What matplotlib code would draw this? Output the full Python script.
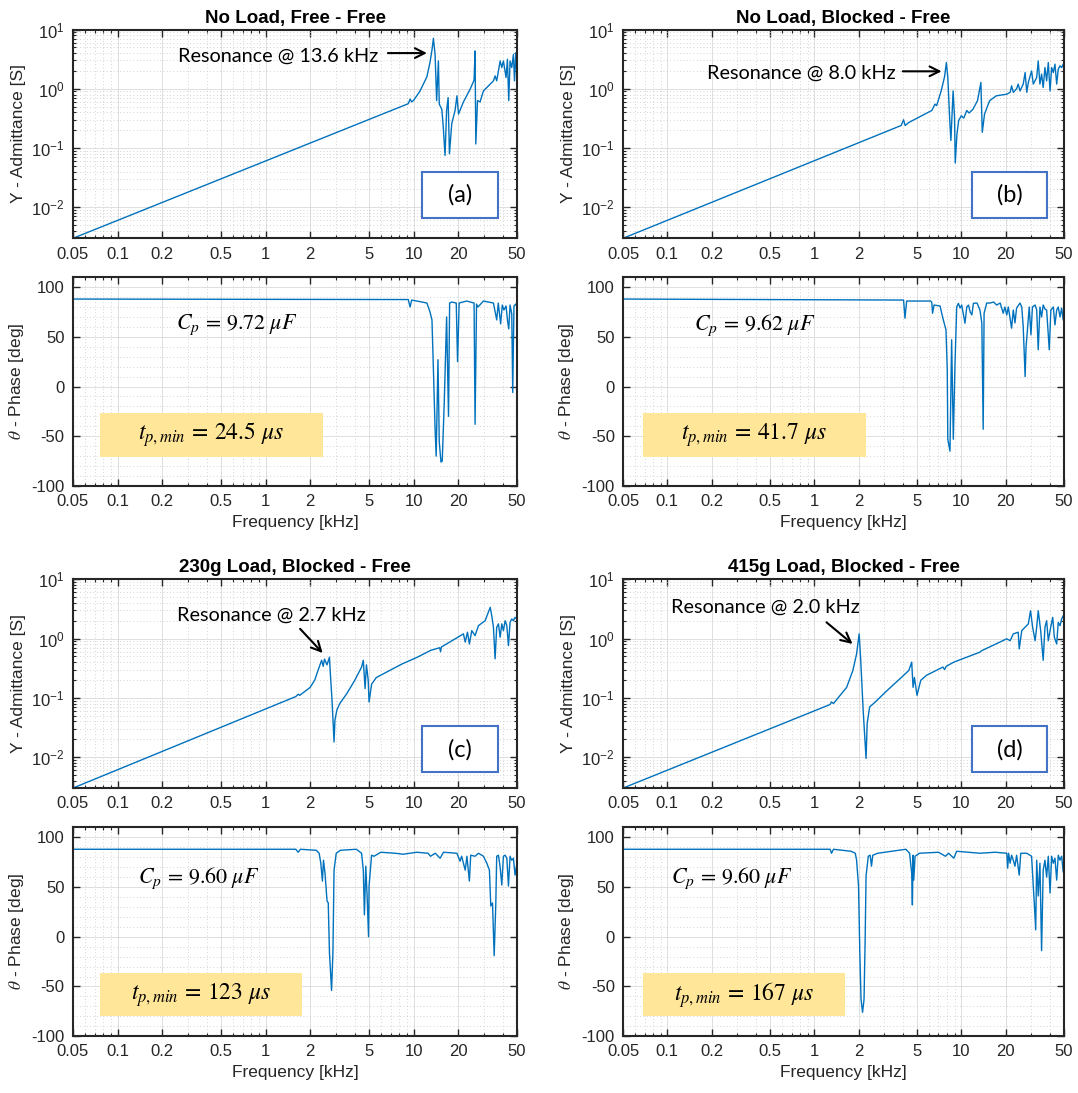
import numpy as np
import matplotlib
matplotlib.use("Agg")
import matplotlib.pyplot as plt
from matplotlib.ticker import FixedLocator, LogLocator, MultipleLocator, NullFormatter
from matplotlib.patches import Rectangle

# ---------------- data (frequency in kHz) ----------------
freq_ticks = [0.05, 0.1, 0.2, 0.5, 1, 2, 5, 10, 20, 50]
freq_tick_labels = ["0.05", "0.1", "0.2", "0.5", "1", "2", "5", "10", "20", "50"]

titles = ["No Load, Free - Free", "No Load, Blocked - Free",
          "230g Load, Blocked - Free", "415g Load, Blocked - Free"]
panel_tags = ["(a)", "(b)", "(c)", "(d)"]
resonance_khz = [13.6, 8.0, 2.7, 2.0]
cp_uf = ["9.72", "9.62", "9.60", "9.60"]
tp_min_us = ["24.5", "41.7", "123", "167"]

# (a) No load, free-free
fa = [0.05, 9.2, 9.46, 9.7, 10.0, 11.0, 12.3, 12.9, 13.3, 13.6, 13.96, 14.3, 14.7, 14.9, 15.5,
      15.8, 16.3, 16.7, 17.1, 17.45, 18.1, 19.05, 19.6, 20.1, 21.7, 24.1, 25.6, 26.0, 26.3, 27.0,
      28.1, 29.6, 34.6, 35.5, 36.4, 38.4, 39.4, 40.4, 42.1, 43.0, 43.9, 44.8, 46.0, 47.2, 48.0,
      49.0, 50.0]
ya = [0.003, 0.56, 0.67, 0.60, 0.64, 0.9, 1.6, 2.8, 4.5, 7.1, 3.8, 0.63, 2.95, 0.55, 0.45,
      0.255, 0.075, 0.43, 0.71, 0.08, 0.26, 0.43, 0.76, 0.375, 0.6, 0.99, 1.4, 4.35, 0.117, 0.63,
      0.6, 0.92, 1.36, 1.65, 1.36, 2.95, 2.28, 2.95, 1.55, 3.15, 0.63, 2.95, 2.28, 3.8, 1.36,
      4.07, 1.4]
fpa = [0.05, 9.2, 9.46, 9.7, 12.3, 12.9, 13.3, 13.6, 13.96, 14.2, 14.6, 14.9, 15.3, 15.6, 16.1,
       16.7, 17.2, 17.5, 18.1, 19.4, 19.8, 20.3, 22.8, 25.6, 26.0, 26.6, 27.2, 29.6, 34.6, 36.4,
       37.3, 38.7, 39.7, 40.7, 42.1, 43.0, 43.9, 44.8, 46.0, 46.7, 47.6, 49.0, 50.0]
pa = [88, 87.5, 80, 87, 84, 75, 67, 17, -43, -70, 27, -56, -76, -75, -16,
      70, -30, 84, 85, 84, 25, 84, 86, 84, -38, 83, 80, 86, 84, 67,
      84, 63, 82, 77, 81, 67, 58, 82, 73, -6, 81, 83, 80]

# (b) No load, blocked-free
fb = [0.05, 3.9, 4.05, 4.15, 4.4, 6.3, 6.46, 6.63, 6.8, 7.3, 7.7, 7.92, 8.1, 8.35, 8.5,
      8.8, 9.0, 9.1, 9.35, 9.6, 10.0, 10.4, 10.9, 11.3, 12.0, 12.9, 13.6, 13.9, 14.4, 15.6,
      17.3, 20.4, 21.5, 22.0, 22.6, 23.8, 24.4, 25.1, 26.4, 27.2, 27.9, 28.6, 30.1, 30.9, 32.6,
      33.4, 34.3, 35.2, 36.1, 37.1, 38.1, 39.1, 40.2, 41.2, 42.3, 43.4, 44.6, 45.7, 47.0, 48.2,
      49.4, 50.0]
yb = [0.003, 0.24, 0.30, 0.24, 0.27, 0.43, 0.485, 0.55, 0.52, 0.92, 1.6, 2.77, 1.55, 0.29, 0.134,
      0.92, 0.33, 0.056, 0.173, 0.29, 0.35, 0.32, 0.43, 0.39, 0.45, 0.63, 1.28, 0.184, 0.375, 0.63,
      0.76, 0.81, 0.87, 1.12, 0.87, 1.0, 1.2, 0.92, 1.2, 1.88, 0.87, 1.28, 2.0, 1.2, 1.55,
      2.95, 1.2, 1.77, 1.05, 2.28, 1.36, 2.77, 0.92, 2.28, 1.88, 2.6, 1.2, 2.14, 2.44, 2.28,
      2.6, 2.3]
fpb = [0.05, 4.05, 4.14, 4.25, 6.2, 6.3, 6.38, 6.53, 7.17, 7.55, 7.87, 8.03, 8.1, 8.38, 8.6,
       8.83, 9.07, 9.31, 9.56, 9.81, 10.07, 10.6, 10.9, 11.2, 11.5, 11.8, 12.1, 12.8, 13.4, 13.8,
       14.1, 14.3, 14.9, 15.7, 16.6, 17.4, 18.4, 19.3, 19.8, 20.4, 20.9, 22.0, 22.6, 23.2, 23.8,
       25.1, 25.8, 26.4, 27.2, 27.6, 28.2, 29.0, 29.8, 30.5, 31.8, 32.6, 33.4, 34.3, 35.2, 36.1,
       37.1, 38.1, 39.7, 40.7, 42.3, 43.4, 44.6, 45.7, 47.0, 48.2, 49.4, 50.0]
pb = [88, 87, 68.7, 86, 86, 84.7, 73.7, 82, 81, 67, 57, 17, -53, -65, 47,
      -53, 23.7, 80, 83.7, 79, 82, 63.7, 80, 82, 75, 72, 83.7, 84, 77, 64,
      -43, 73.7, 84, 84, 85, 82, 84, 73.7, 80, 72, 80, 58.7, 77, 64, 79,
      84, 80, 60, 10, 40, 57, 80, 52, 80, 82, 77, 37, 80, 70, 82,
      78, 77, 37, 77, 80, 62, 77, 80, 70, 79, 67, 72]

# (c) 230 g load, blocked-free
fc = [0.05, 1.6, 1.66, 1.7, 2.0, 2.15, 2.26, 2.39, 2.45, 2.5, 2.6, 2.7, 2.73, 2.81, 2.9, 2.94,
      3.03, 3.17, 3.53, 4.0, 4.45, 4.57, 4.7, 4.8, 4.93, 5.0, 5.2, 5.6, 6.9, 8.4, 10.6,
      13.0, 15.0, 15.2, 15.4, 19.6, 21.7, 22.3, 23.1, 23.8, 24.7, 26.0, 27.4, 30.4, 32.9, 33.7,
      34.6, 35.5, 36.4, 37.4, 38.4, 39.4, 40.4, 41.5, 42.6, 43.7, 44.8, 46.0, 47.2, 48.4, 50.0]
yc = [0.003, 0.105, 0.115, 0.11, 0.15, 0.2, 0.29, 0.43, 0.34, 0.45, 0.36, 0.485, 0.29, 0.091, 0.018, 0.042,
      0.062, 0.08, 0.117, 0.197, 0.33, 0.43, 0.143, 0.36, 0.2, 0.085, 0.17, 0.22, 0.29, 0.375, 0.485,
      0.63, 0.7, 0.6, 0.72, 1.03, 1.2, 0.87, 1.28, 0.81, 1.36, 1.12, 1.65, 2.0, 3.36, 2.44,
      1.55, 0.455, 1.55, 1.77, 1.05, 1.77, 1.36, 2.0, 1.65, 0.76, 1.88, 2.14, 2.0, 2.28, 2.1]
fpc = [0.05, 1.6, 1.66, 1.72, 2.2, 2.3, 2.36, 2.42, 2.46, 2.52, 2.6, 2.65, 2.7, 2.79, 2.85,
       2.9, 3.0, 3.2, 4.1, 4.45, 4.57, 4.65, 4.75, 4.85, 4.96, 5.0, 5.2, 5.4, 6.0, 7.5,
       8.5, 10.5, 12.5, 13.0, 14.0, 15.1, 15.9, 19.6, 20.6, 21.1, 22.3, 22.9, 23.8, 24.3, 26.0,
       27.4, 29.6, 31.2, 32.5, 33.2, 34.1, 35.0, 35.9, 36.4, 37.4, 38.4, 39.4, 40.4, 41.5, 42.6,
       43.7, 44.8, 46.0, 47.2, 48.4, 50.0]
pc = [88, 88, 85, 88, 87, 84, 74, 56, 77, 64, 36, 34, -16, -54, -16,
      67, 84, 87, 88, 84, 67, 22, 71, 41, 0, 51, 82, 81, 85, 84,
      83, 85, 84, 81, 84, 79, 85, 84, 76, 81, 67, 81, 56, 82, 81,
      84, 81, 74, 67, 31, 34, -19, 34, 81, 82, 70, 52, 81, 82, 79,
      51, 81, 77, 79, 62, 75]

# (d) 415 g load, blocked-free
fd = [0.05, 1.28, 1.31, 1.35, 1.66, 1.83, 1.94, 2.02, 2.07, 2.15, 2.25, 2.29, 2.38, 2.6, 3.1,
      3.83, 4.4, 4.6, 4.7, 4.8, 5.0, 5.3, 5.8, 7.5, 7.7, 7.9, 8.9, 13.4, 13.7, 20.4,
      21.5, 22.6, 24.4, 24.8, 25.8, 28.6, 29.6, 30.6, 31.8, 32.6, 33.4, 34.7, 36.1, 37.1, 38.1,
      39.1, 40.6, 41.9, 43.0, 44.6, 45.7, 47.0, 48.2, 49.4, 50.0]
yd = [0.003, 0.077, 0.085, 0.08, 0.15, 0.29, 0.55, 1.2, 0.43, 0.062, 0.0095, 0.037, 0.07, 0.085, 0.13,
      0.21, 0.29, 0.4, 0.15, 0.22, 0.11, 0.197, 0.24, 0.33, 0.3, 0.34, 0.4, 0.59, 0.62, 0.99,
      0.92, 1.2, 1.28, 0.67, 1.36, 1.77, 2.95, 1.55, 0.92, 1.55, 2.95, 1.36, 0.43, 1.55, 2.0,
      0.92, 1.55, 2.28, 1.05, 0.81, 1.88, 1.65, 2.14, 2.44, 2.3]
fpd = [0.05, 1.28, 1.31, 1.35, 1.78, 1.9, 1.94, 2.0, 2.04, 2.08, 2.13, 2.18, 2.22, 2.25, 2.33,
       2.4, 2.45, 2.5, 2.7, 4.2, 4.45, 4.6, 4.65, 4.7, 4.75, 4.85, 5.2, 7.0, 7.8, 8.2,
       8.9, 9.3, 13.4, 17.0, 20.4, 20.7, 21.0, 21.5, 22.0, 22.6, 23.2, 23.8, 24.8, 25.4, 27.9,
       30.1, 30.9, 31.4, 32.1, 32.6, 33.4, 34.3, 35.2, 36.1, 37.1, 38.1, 39.1, 40.2, 41.2, 42.3,
       43.4, 44.6, 45.7, 47.0, 48.2, 49.4, 50.0]
pd_ = [88, 88, 84, 88, 86, 84, 77, 51, -16, -63, -76, -63, 0, 61, 81,
       82, 71, 82, 84, 88, 84, 64, 32, 82, 57, 81, 84, 85, 81, 84,
       79, 86, 84, 85, 84, 69, 84, 74, 82, 77, 71, 82, 62, 84, 84,
       81, 51, 34, 7, 77, 41, 74, -14, 67, 77, 60, 81, 44, 81, 74,
       79, 57, 82, 77, 81, 65, 72]

adm_f = [fa, fb, fc, fd]
adm_y = [ya, yb, yc, yd]
ph_f = [fpa, fpb, fpc, fpd]
ph_p = [pa, pb, pc, pd_]

# annotation anchor points (data coords): text position, arrow tail, arrow tip
res_text_xy = [(0.256, 3.6), (0.186, 1.86), (0.253, 2.44), (0.106, 3.32)]
res_arrow_tail = [(6.7, 4.0), (4.0, 1.97), (1.71, 1.46), (1.21, 1.88)]
res_arrow_tip = [(12.3, 4.0), (7.35, 1.97), (2.43, 0.57), (1.82, 0.81)]

# ---------------- style ----------------
plt.rcParams['font.family'] = ['Liberation Sans', 'DejaVu Sans']
plt.rcParams['axes.unicode_minus'] = False
LINE = '#0072BD'
DARK = '#262626'
ANNOT_FONT = ['Lato', 'DejaVu Sans']

fig = plt.figure(figsize=(10.78, 10.93), dpi=100)

col_left = [0.0677, 0.578]
col_width = [0.412, 0.409]
row_adm = [0.782, 0.279]
row_ph = [0.5554, 0.052]
H = 0.191


def style_axes(ax, kind):
    ax.set_xscale('log')
    ax.set_xlim(0.05, 50)
    ax.xaxis.set_major_locator(FixedLocator(freq_ticks))
    ax.set_xticklabels(freq_tick_labels)
    ax.xaxis.set_minor_locator(LogLocator(base=10, subs=np.arange(2, 10), numticks=50))
    ax.xaxis.set_minor_formatter(NullFormatter())
    ax.tick_params(which='both', direction='in', top=True, right=True,
                   colors=DARK, labelsize=12, pad=6)
    ax.tick_params(which='major', length=5, width=1.0)
    ax.tick_params(which='minor', length=2.5, width=0.8)
    if kind == 'adm':
        ax.set_yscale('log')
        ax.set_ylim(0.003, 10)
        ax.yaxis.set_major_locator(FixedLocator([0.01, 0.1, 1, 10]))
        ax.yaxis.set_minor_locator(LogLocator(base=10, subs=np.arange(2, 10), numticks=50))
        ax.yaxis.set_minor_formatter(NullFormatter())
    else:
        ax.set_ylim(-100, 110)
        ax.set_yticks([-100, -50, 0, 50, 100])
        ax.yaxis.set_minor_locator(MultipleLocator(10))
        ax.tick_params(axis='y', which='minor', length=0)
    ax.grid(which='major', color='#dedede', lw=0.7, ls='-')
    ax.grid(which='minor', color='#c6c6c6', lw=0.6, ls=(0, (1, 3)))
    ax.set_axisbelow(True)
    for s in ax.spines.values():
        s.set_linewidth(1.5)
        s.set_color(DARK)


for i in range(4):
    c = i % 2
    r = i // 2
    ax1 = fig.add_axes([col_left[c], row_adm[r], col_width[c], H])
    ax2 = fig.add_axes([col_left[c], row_ph[r], col_width[c], H])
    style_axes(ax1, 'adm')
    style_axes(ax2, 'ph')

    ax1.plot(adm_f[i], adm_y[i], color=LINE, lw=1.0)
    ax2.plot(ph_f[i], ph_p[i], color=LINE, lw=1.0)

    ax1.set_title(titles[i], fontsize=13.5, fontweight='bold', color='black', pad=5)
    ax1.set_ylabel('Y - Admittance [S]', fontsize=12.5, color=DARK)
    ax2.set_ylabel(r'$\theta$ - Phase [deg]', fontsize=12.5, color=DARK, math_fontfamily='stix')
    ax2.set_xlabel('Frequency [kHz]', fontsize=12.5, color=DARK)

    # resonance annotation
    ax1.text(res_text_xy[i][0], res_text_xy[i][1], f'Resonance @ {resonance_khz[i]:.1f} kHz',
             fontsize=14.3, family=ANNOT_FONT, ha='left', va='center', color='black')
    ax1.annotate('', xy=res_arrow_tip[i], xytext=res_arrow_tail[i],
                 arrowprops=dict(arrowstyle='->,head_length=0.7,head_width=0.35',
                                 color='black', lw=1.5, shrinkA=0, shrinkB=0))

    # panel tag box
    if c == 0:
        bx = (0.786, 0.096 if r == 0 else 0.075)
    else:
        bx = (0.791, 0.096 if r == 0 else 0.075)
    bw = 0.171
    bh = 0.22
    ax1.add_patch(Rectangle(bx, bw, bh, transform=ax1.transAxes, facecolor='white',
                            edgecolor='#4472C4', lw=1.5, zorder=5))
    ax1.text(bx[0] + bw / 2, bx[1] + bh / 2, panel_tags[i], transform=ax1.transAxes,
             fontsize=17, family=ANNOT_FONT, ha='center', va='center', zorder=6)

    # capacitance label
    cp_x = [0.232, 0.161, 0.146, 0.109][i]
    cp_y = 0.77 if r == 0 else 0.756
    ax2.text(cp_x, cp_y, r'$C_p\,=\,' + cp_uf[i] + r'\ \mu F$', transform=ax2.transAxes,
             fontsize=15.8, math_fontfamily='stix', ha='left', va='center', color='black')

    # minimum pulse time box
    if r == 0:
        yx0, yy0, yx1, yy1 = ([0.061, 0.139, 0.563, 0.349] if c == 0 else [0.045, 0.139, 0.551, 0.349])
    else:
        yx0, yy0, yx1, yy1 = ([0.061, 0.096, 0.516, 0.301] if c == 0 else [0.045, 0.096, 0.503, 0.301])
    ax2.add_patch(Rectangle((yx0, yy0), yx1 - yx0, yy1 - yy0, transform=ax2.transAxes,
                            facecolor='#FFE699', edgecolor='none', zorder=5))
    ax2.text((yx0 + yx1) / 2, (yy0 + yy1) / 2,
             r'$t_{p,min}\,=\,' + tp_min_us[i] + r'\ \mu s$', transform=ax2.transAxes,
             fontsize=17, math_fontfamily='stix', ha='center', va='center', zorder=6)

fig.savefig('out.png', dpi=100)
